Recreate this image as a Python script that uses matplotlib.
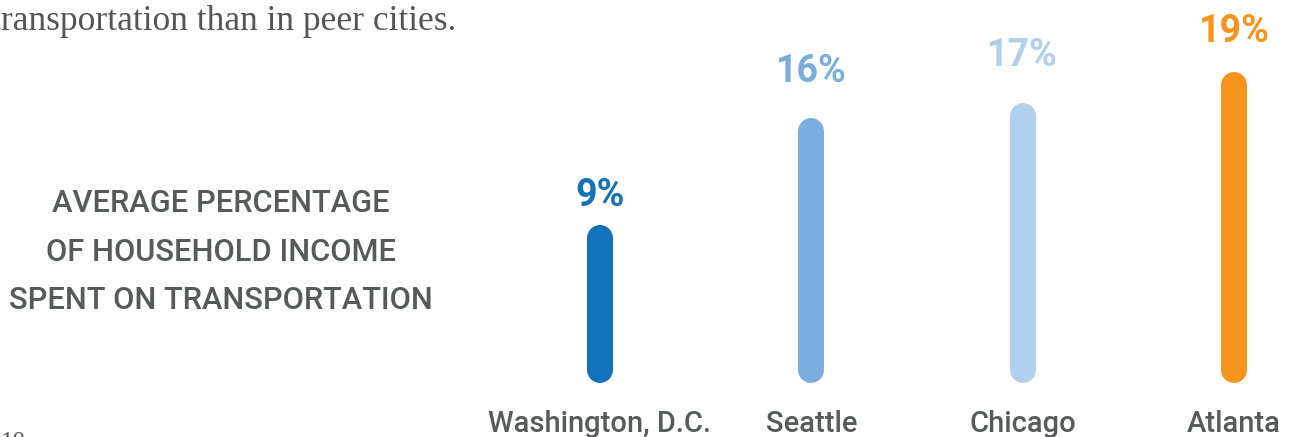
import matplotlib
matplotlib.use("Agg")
import matplotlib.pyplot as plt
from matplotlib.transforms import blended_transform_factory

cities = ["Washington, D.C.", "Seattle", "Chicago", "Atlanta"]
values = [9, 16, 17, 19]
labels = ["9%", "16%", "17%", "19%"]
colors = ["#1373BA", "#7BAEDF", "#B0D0EE", "#F7941E"]
title_lines = ["AVERAGE PERCENTAGE", "OF HOUSEHOLD INCOME", "SPENT ON TRANSPORTATION"]
intro_text = "transportation than in peer cities."
page_number = "10"

# label baseline offsets above bar end (pixels) - layout only
label_offsets_px = [32, 49, 50, 43]

W, H, DPI = 1294, 437, 100
fig = plt.figure(figsize=(W / DPI, H / DPI), dpi=DPI)
ax = fig.add_axes([0, 0, 1, 1])
ax.set_axis_off()

step = 211.3
x0 = 600
ax.set_xlim(-x0 / step, (W - x0) / step)
ppv = 15.33
off = 60.7
ax.set_ylim(-off / ppv, (H - off) / ppv)

base = 0.41
lw_pt = 26 * 72 / DPI
for i, (v, c, lab, o) in enumerate(zip(values, colors, labels, label_offsets_px)):
    ax.plot([i, i], [base, v], color=c, lw=lw_pt, solid_capstyle="round")
    ax.annotate(lab, xy=(i, v), xytext=(0, o * 72 / DPI), textcoords="offset points",
                ha="center", va="baseline", color=c, fontsize=27, fontweight="bold",
                family="Roboto")

gray = "#58595B"
tr = blended_transform_factory(ax.transData, fig.transFigure)
for i, name in enumerate(cities):
    ax.text(i, 1 - 432 / H, name, transform=tr, ha="center", va="baseline",
            fontsize=21, color=gray, family="Roboto", fontweight="medium")

for k, y in enumerate([212, 261, 309]):
    fig.text(221 / W, 1 - y / H, title_lines[k], ha="center", va="baseline",
             fontsize=22.2, color=gray, family="Roboto", fontweight="medium")

fig.text(-9 / W, 1 - 30 / H, intro_text, ha="left", va="baseline", fontsize=25.5,
         color="#555555", family="Liberation Serif")
fig.text(1 / W, 1 - 449 / H, page_number, ha="left", va="baseline", fontsize=18,
         color="#555555", family="Liberation Serif")

fig.savefig("out.png", dpi=DPI)
